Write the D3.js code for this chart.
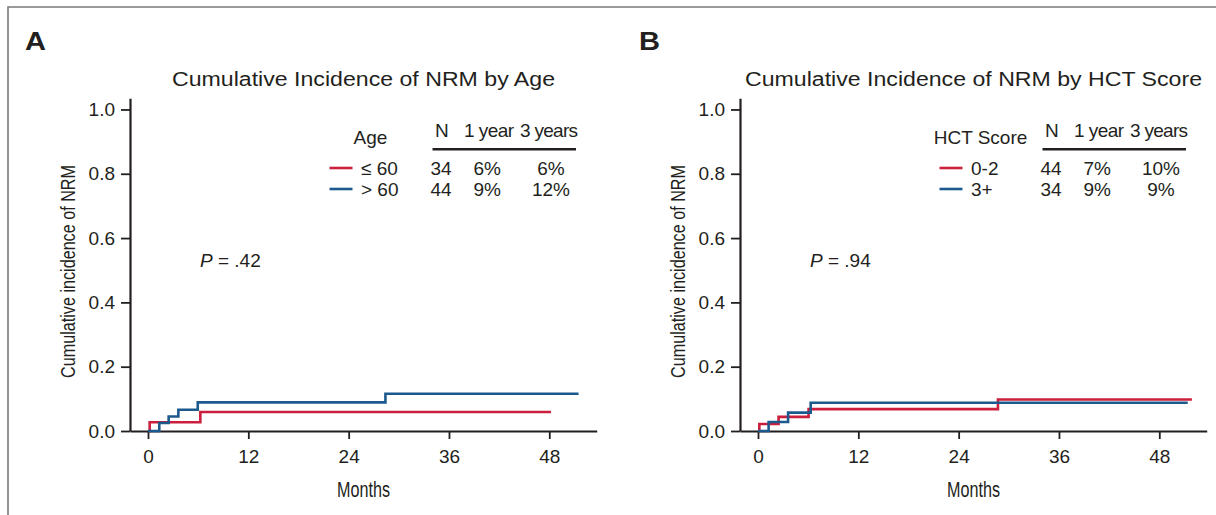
<!DOCTYPE html>
<html>
<head>
<meta charset="utf-8">
<script src="https://cdn.jsdelivr.net/npm/d3@7"></script>
<style>
body { margin: 0; background: #fff; }
svg text { font-family: "Liberation Sans", Arial, Helvetica, sans-serif; fill: #231f20; }
</style>
</head>
<body>
<script>
// axis ticks
var monthTicks = [0, 12, 24, 36, 48];
var incTicks = [0, 0.2, 0.4, 0.6, 0.8, 1.0];

// panel A - NRM by age
var ageGroups = ["\u2264 60", "> 60"];
var ageN = [34, 44];
var age1y = ["6%", "9%"];
var age3y = ["6%", "12%"];
var ageLeTime = [0, 0.2, 6.26, 48.2];
var ageLeInc = [0, 0.027, 0.059, 0.059];
var ageGtTime = [0, 1.35, 2.47, 3.63, 5.95, 28.4, 51.5];
var ageGtInc = [0, 0.025, 0.045, 0.066, 0.089, 0.116, 0.116];

// panel B - NRM by HCT score
var hctGroups = ["0-2", "3+"];
var hctN = [44, 34];
var hct1y = ["7%", "9%"];
var hct3y = ["10%", "9%"];
var hct02Time = [0, 0.16, 2.46, 6.05, 28.7, 51.9];
var hct02Inc = [0, 0.022, 0.044, 0.068, 0.098, 0.098];
var hct3Time = [0, 1.27, 3.6, 6.3, 51.4];
var hct3Inc = [0, 0.028, 0.057, 0.088, 0.088];

var colors = ["#cc1f3d", "#1c5a8e"];
var ink = "#231f20";

var svg = d3.select("body")
    .append("svg")
    .attr("width", 1216)
    .attr("height", 515);

// frame (top + left)
svg.append("path")
    .attr("d", "M8,515V7H1216")
    .attr("fill", "none")
    .attr("stroke", "#7a7a7a")
    .attr("stroke-width", 1.6);

function zip(t, v) { return t.map(function(d, i) { return [d, v[i]]; }); }

function drawPanel(ox, p) {
  var x = d3.scaleLinear().domain([-2.153, 53.67]).range([130 + ox, 596.7 + ox]);
  var y = d3.scaleLinear().domain([0, 1.035]).range([431, 98.2]);

  svg.append("text")
      .attr("x", p.letterX).attr("y", 50)
      .style("font-size", "26px").style("font-weight", "bold")
      .attr("textLength", 21).attr("lengthAdjust", "spacingAndGlyphs")
      .text(p.letter);

  svg.append("text")
      .attr("x", 363.5 + ox).attr("y", 86)
      .attr("text-anchor", "middle")
      .style("font-size", "20px")
      .attr("textLength", p.titleLen).attr("lengthAdjust", "spacingAndGlyphs")
      .text(p.title);

  var yAx = svg.append("g")
      .attr("transform", "translate(" + (130 + ox) + ",0)")
      .call(d3.axisLeft(y).tickValues(incTicks).tickFormat(d3.format(".1f"))
            .tickSize(9).tickSizeOuter(0).tickPadding(6));
  var xAx = svg.append("g")
      .attr("transform", "translate(0,431)")
      .call(d3.axisBottom(x).tickValues(monthTicks).tickSize(8).tickSizeOuter(0).tickPadding(11));
  [yAx, xAx].forEach(function(g) {
    g.select(".domain").attr("stroke", ink).attr("stroke-width", 2.2);
    g.selectAll(".tick line").attr("stroke", ink).attr("stroke-width", 1.8);
    g.selectAll(".tick text").attr("fill", ink)
        .style("font-family", "'Liberation Sans', Arial, sans-serif").style("font-size", "19px");
  });

  svg.append("text")
      .attr("transform", "translate(" + (75 + ox) + ",271.5) rotate(-90)")
      .attr("text-anchor", "middle")
      .style("font-size", "20px")
      .attr("textLength", 213).attr("lengthAdjust", "spacingAndGlyphs")
      .text("Cumulative incidence of NRM");

  svg.append("text")
      .attr("x", 363.5 + ox).attr("y", 497)
      .attr("text-anchor", "middle")
      .style("font-size", "22px")
      .attr("textLength", 53).attr("lengthAdjust", "spacingAndGlyphs")
      .text("Months");

  var pv = svg.append("text")
      .attr("x", 200 + ox).attr("y", 267)
      .style("font-size", "19px");
  pv.append("tspan").style("font-style", "italic").text("P");
  pv.append("tspan").text(" = " + p.pval);

  var line = d3.line()
      .x(function(d) { return x(d[0]); })
      .y(function(d) { return y(d[1]); })
      .curve(d3.curveStepAfter);

  svg.append("g").selectAll("path")
      .data(p.curves)
      .enter().append("path")
      .attr("d", line)
      .attr("fill", "none")
      .attr("stroke", function(d, i) { return colors[i]; })
      .attr("stroke-width", 2.6);

  // legend table
  var lg = svg.append("g").attr("transform", "translate(" + ox + ",0)").style("font-size", "19px");
  lg.append("text").attr("x", 370.5).attr("y", 144.3).attr("text-anchor", "middle").text(p.groupTitle);
  lg.append("text").attr("x", 435).attr("y", 136.7).text("N");
  lg.append("text").attr("x", 464).attr("y", 136.7).attr("textLength", 50).text("1 year");
  lg.append("text").attr("x", 520).attr("y", 136.7).attr("textLength", 58).text("3 years");
  lg.append("line").attr("x1", 432.5).attr("x2", 576).attr("y1", 149.3).attr("y2", 149.3)
      .attr("stroke", ink).attr("stroke-width", 2.6);

  var rows = lg.selectAll("g.row")
      .data(p.groups)
      .enter().append("g")
      .attr("class", "row")
      .attr("transform", function(d, i) { return "translate(0," + (175 + i * 21) + ")"; });
  rows.append("line")
      .attr("x1", 329.5).attr("x2", 352.5).attr("y1", -7).attr("y2", -7)
      .attr("stroke", function(d, i) { return colors[i]; })
      .attr("stroke-width", 2.6);
  rows.append("text").attr("x", 361).text(function(d) { return d; });
  rows.append("text").attr("x", 430.5).text(function(d, i) { return p.n[i]; });
  rows.append("text").attr("x", 473.5).text(function(d, i) { return p.y1[i]; });
  rows.append("text").attr("x", 551).attr("text-anchor", "middle").text(function(d, i) { return p.y3[i]; });
}

drawPanel(0, {
  letter: "A", letterX: 25,
  title: "Cumulative Incidence of NRM by Age", titleLen: 383,
  pval: ".42", groupTitle: "Age",
  groups: ageGroups, n: ageN, y1: age1y, y3: age3y,
  curves: [zip(ageLeTime, ageLeInc), zip(ageGtTime, ageGtInc)]
});

drawPanel(610, {
  letter: "B", letterX: 639,
  title: "Cumulative Incidence of NRM by HCT Score", titleLen: 457,
  pval: ".94", groupTitle: "HCT Score",
  groups: hctGroups, n: hctN, y1: hct1y, y3: hct3y,
  curves: [zip(hct02Time, hct02Inc), zip(hct3Time, hct3Inc)]
});
</script>
</body>
</html>
